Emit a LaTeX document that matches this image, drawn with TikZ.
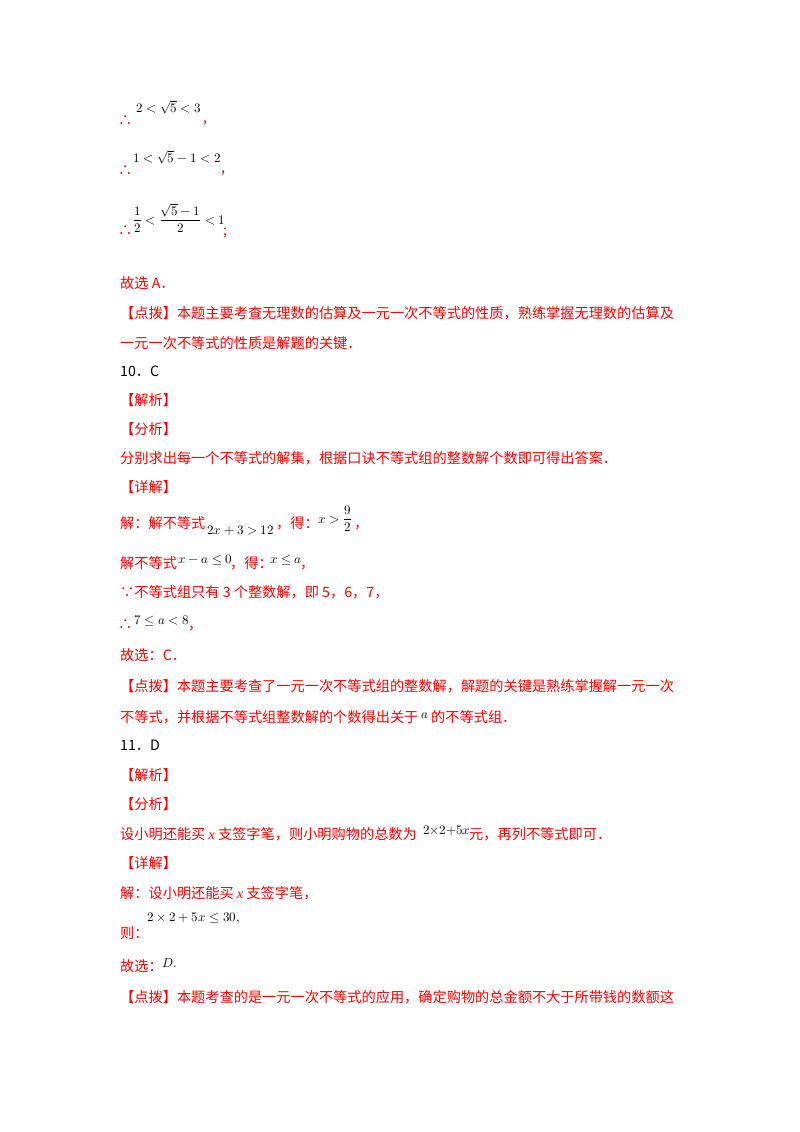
\documentclass[tikz,border=0pt]{standalone}
\usepackage{fontspec}
\usepackage{unicode-math}
\setmainfont{Liberation Serif}
\setmathfont{Latin Modern Math}
\newfontfamily\cjk{Noto Sans CJK SC}
\definecolor{rd}{RGB}{255,0,0}
\newcommand{\vx}{{\rmfamily\itshape x}}
\begin{document}
\begin{tikzpicture}[x=1pt,y=-1pt,
 t/.style={anchor=base west,inner sep=0pt,text=rd,font=\fontsize{14.2}{16}\cjk},
 m/.style={anchor=base west,inner sep=0pt,text=black,font=\fontsize{13}{15}\selectfont},
 b/.style={t,text=black}]
\useasboundingbox (0,0) rectangle (800,1132);
\node[t] (a1) at (118,125) {∴};
\node[m] (a2) at (136,112) {$2<\sqrt{5}<3$};
\node[t] (a3) at (203,122) {,};
\node[t] (b1) at (118,175) {∴};
\node[m] (b2) at (133,162) {$1<\sqrt{5}-1<2$};
\node[t] (b3) at (221,172) {,};
\node[t] (c1) at (118,235) {∴};
\node[m] (c2) at (133,224) {$\dfrac{1}{2}<\dfrac{\sqrt{5}-1}{2}<1$};
\node[t] (c3) at (223,235) {;};
\node[t] (d1) at (120,288) {故选 A．};
\node[t] (d2) at (120,318) {【点拨】本题主要考查无理数的估算及一元一次不等式的性质，熟练掌握无理数的估算及};
\node[t] (d3) at (120,348) {一元一次不等式的性质是解题的关键．};
\node[b] (e1) at (120,376) {10．C};
\node[t] (e2) at (120,405) {【解析】};
\node[t] (e3) at (120,434) {【分析】};
\node[t] (e4) at (120,463) {分别求出每一个不等式的解集，根据口诀不等式组的整数解个数即可得出答案．};
\node[t] (e5) at (120,492) {【详解】};
\node[t] (f1) at (120,528) {解：解不等式};
\node[m] (f2) at (207,534) {$2x+3>12$};
\node[t] (f3) at (276,528) {，得：};
\node[m] (f4) at (318,523) {$x>\dfrac{9}{2}$};
\node[t] (f5) at (354,528) {，};
\node[t] (g1) at (120,568) {解不等式};
\node[m] (g2) at (178,563) {$x-a\le 0$};
\node[t] (g3) at (230,568) {，得：};
\node[m] (g4) at (270,563) {$x\le a$};
\node[t] (g5) at (300,568) {，};
\node[t] (h1) at (120,597) {∵不等式组只有 3 个整数解，即 5，6，7，};
\node[t] (i1) at (118,629) {∴};
\node[m] (i2) at (134,624) {$7\le a<8$};
\node[t] (i3) at (188,629) {，};
\node[t] (j1) at (120,660) {故选：C．};
\node[t] (j2) at (120,691) {【点拨】本题主要考查了一元一次不等式组的整数解，解题的关键是熟练掌握解一元一次};
\node[t] (j3) at (120,722) {不等式，并根据不等式组整数解的个数得出关于};
\node[m] (j4) at (421,718) {$a$};
\node[t] (j5) at (431,722) {的不等式组．};
\node[b] (k1) at (120,750) {11．D};
\node[t] (k2) at (120,780) {【解析】};
\node[t] (k3) at (120,809) {【分析】};
\node[t] (k4) at (120,839) {设小明还能买 \vx\ 支签字笔，则小明购物的总数为};
\node[m] (k5) at (423,834) {$2{\times}2{+}5x$};
\node[t] (k6) at (469,839) {元，再列不等式即可．};
\node[t] (k7) at (120,868) {【详解】};
\node[t] (l1) at (120,898) {解：设小明还能买 \vx\ 支签字笔，};
\node[m] (l2) at (147,921) {$2\times2+5x\le 30,$};
\node[t] (l3) at (120,938) {则：};
\node[t] (l4) at (120,971) {故选：};
\node[m] (l5) at (162,967) {$D.$};
\node[t] (m1) at (120,1002) {【点拨】本题考查的是一元一次不等式的应用，确定购物的总金额不大于所带钱的数额这};
\end{tikzpicture}
\end{document}
